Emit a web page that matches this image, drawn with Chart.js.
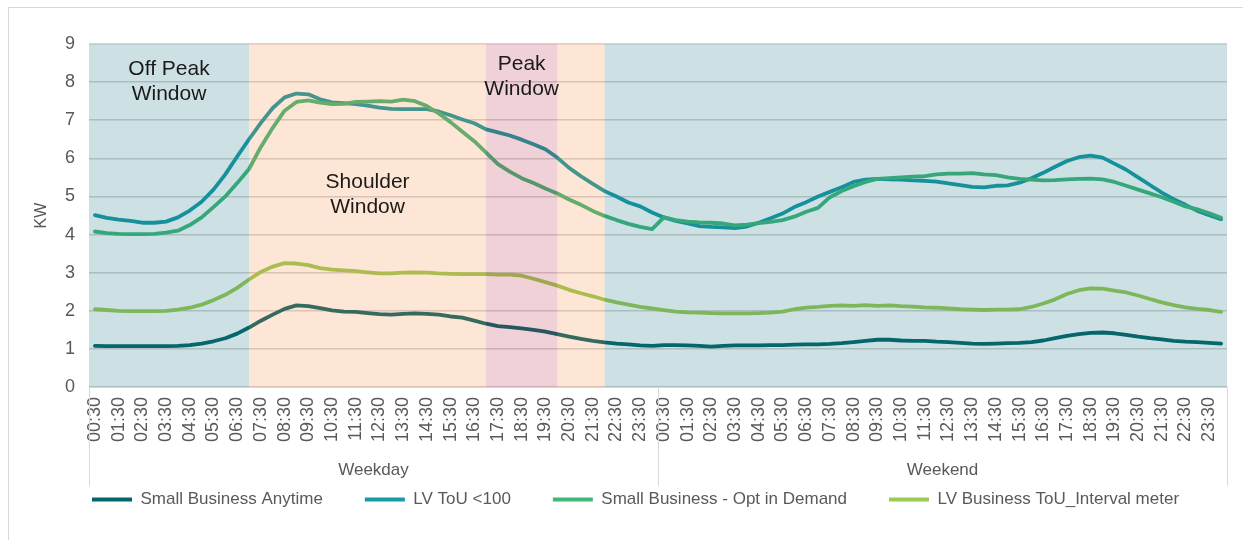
<!DOCTYPE html>
<html>
<head>
<meta charset="utf-8">
<script src="https://cdn.jsdelivr.net/npm/chart.js@4.4.1/dist/chart.umd.min.js"></script>
<style>
  html, body { margin: 0; padding: 0; background: #fff; }
  #wrap { width: 1243px; height: 540px; position: relative; }
</style>
</head>
<body>
<div id="wrap"><canvas id="c"></canvas></div>
<script>
// half-hour intervals, same list for each day type
const halfHours = ['00:30','01:00','01:30','02:00','02:30','03:00','03:30','04:00','04:30','05:00','05:30','06:00',
  '06:30','07:00','07:30','08:00','08:30','09:00','09:30','10:00','10:30','11:00','11:30','12:00',
  '12:30','13:00','13:30','14:00','14:30','15:00','15:30','16:00','16:30','17:00','17:30','18:00',
  '18:30','19:00','19:30','20:00','20:30','21:00','21:30','22:00','22:30','23:00','23:30','24:00'];
const dayGroups = ['Weekday', 'Weekend'];

const seriesNames = ['Small Business Anytime', 'LV ToU <100', 'Small Business - Opt in Demand', 'LV Business ToU_Interval meter'];

const anytimeWeekday = [1.08,1.07,1.07,1.07,1.07,1.07,1.07,1.08,1.10,1.14,1.20,1.28,1.40,1.56,1.74,1.90,2.05,2.14,2.12,2.07,2.01,1.98,1.97,1.94,
  1.91,1.90,1.92,1.93,1.92,1.90,1.85,1.82,1.74,1.66,1.60,1.57,1.54,1.50,1.45,1.39,1.32,1.26,1.21,1.17,1.14,1.12,1.09,1.08];
const anytimeWeekend = [1.10,1.10,1.09,1.08,1.06,1.08,1.09,1.09,1.09,1.10,1.10,1.11,1.12,1.12,1.13,1.15,1.18,1.21,1.24,1.24,1.22,1.21,1.21,1.19,
  1.18,1.16,1.14,1.13,1.14,1.15,1.16,1.18,1.22,1.28,1.34,1.39,1.42,1.43,1.41,1.37,1.32,1.28,1.25,1.21,1.19,1.18,1.16,1.14];

const touWeekday = [4.51,4.44,4.39,4.36,4.31,4.31,4.34,4.45,4.63,4.86,5.18,5.58,6.05,6.50,6.93,7.32,7.60,7.70,7.68,7.55,7.47,7.45,7.42,7.38,
  7.33,7.30,7.29,7.29,7.29,7.23,7.13,7.02,6.92,6.76,6.68,6.60,6.49,6.37,6.24,6.02,5.75,5.53,5.33,5.14,5.00,4.84,4.74,4.58];
const touWeekend = [4.45,4.36,4.29,4.22,4.20,4.19,4.17,4.21,4.31,4.43,4.55,4.72,4.85,5.00,5.12,5.24,5.38,5.44,5.46,5.45,5.44,5.42,5.41,5.39,
  5.34,5.30,5.25,5.24,5.28,5.29,5.36,5.48,5.62,5.78,5.93,6.03,6.07,6.02,5.86,5.70,5.50,5.30,5.10,4.93,4.78,4.62,4.51,4.40];

const demandWeekday = [4.08,4.04,4.02,4.01,4.01,4.02,4.05,4.10,4.25,4.45,4.72,5.00,5.35,5.72,6.30,6.80,7.25,7.48,7.52,7.46,7.42,7.43,7.48,7.49,
  7.50,7.49,7.54,7.50,7.37,7.18,6.95,6.70,6.45,6.15,5.85,5.65,5.48,5.35,5.21,5.08,4.92,4.78,4.62,4.49,4.38,4.28,4.20,4.14];
const demandWeekend = [4.45,4.38,4.34,4.32,4.31,4.29,4.24,4.26,4.30,4.33,4.38,4.47,4.60,4.70,4.98,5.14,5.27,5.38,5.46,5.48,5.50,5.52,5.53,5.58,
  5.60,5.60,5.61,5.58,5.56,5.50,5.46,5.44,5.42,5.43,5.45,5.46,5.47,5.45,5.38,5.28,5.18,5.08,4.98,4.86,4.74,4.66,4.56,4.44];

const intervalWeekday = [2.04,2.02,2.00,1.99,1.99,1.99,2.00,2.03,2.08,2.16,2.28,2.42,2.60,2.82,3.02,3.16,3.25,3.24,3.20,3.12,3.08,3.06,3.04,3.01,
  2.98,2.98,3.00,3.01,3.00,2.98,2.97,2.96,2.96,2.96,2.95,2.95,2.92,2.84,2.75,2.66,2.55,2.46,2.38,2.29,2.22,2.16,2.10,2.06];
const intervalWeekend = [2.02,1.98,1.96,1.95,1.94,1.93,1.93,1.93,1.94,1.95,1.98,2.04,2.08,2.10,2.13,2.14,2.13,2.15,2.13,2.14,2.12,2.11,2.09,2.08,
  2.06,2.04,2.03,2.02,2.03,2.03,2.04,2.10,2.19,2.30,2.44,2.54,2.59,2.58,2.53,2.48,2.40,2.31,2.22,2.15,2.09,2.05,2.02,1.97];

// tariff windows on the weekday; the last off-peak runs through the whole weekend
const tariffWindows = [
  { kind: 'offpeak',  from: null,    to: '07:00', note: ['Off Peak', 'Window'], noteAt: 8.34 },
  { kind: 'shoulder', from: '07:00', to: '17:00', note: ['Shoulder', 'Window'], noteAt: 5.37 },
  { kind: 'peak',     from: '17:00', to: '20:00', note: ['Peak', 'Window'],     noteAt: 8.48 },
  { kind: 'shoulder', from: '20:00', to: '22:00' },
  { kind: 'offpeak',  from: '22:00', to: null }
];

const FONT = '"Liberation Sans", Arial, sans-serif';
const lineColours = ['#05666a', '#189ba4', '#43b77b', '#9bcb55'];
const bandColours = {
  offpeak: 'rgba(5,105,120,0.2)',
  shoulder: 'rgba(245,130,50,0.2)',
  peak: 'rgba(175,25,55,0.2)'
};

const labels = halfHours.concat(halfHours);
const values = [
  anytimeWeekday.concat(anytimeWeekend),
  touWeekday.concat(touWeekend),
  demandWeekday.concat(demandWeekend),
  intervalWeekday.concat(intervalWeekend)
];

const tariffBands = {
  id: 'tariffBands',
  afterDatasetsDraw(chart) {
    const { ctx, chartArea: a, scales: { x, y } } = chart;
    const top = y.getPixelForValue(9), bottom = y.getPixelForValue(0);
    ctx.save();
    tariffWindows.forEach(w => {
      const x0 = w.from === null ? a.left : x.getPixelForValue(halfHours.indexOf(w.from));
      const x1 = w.to === null ? a.right : x.getPixelForValue(halfHours.indexOf(w.to));
      ctx.fillStyle = bandColours[w.kind];
      ctx.fillRect(x0, top, x1 - x0, bottom - top);
      if (w.note) {
        ctx.fillStyle = '#1a1a1a';
        ctx.font = '21px ' + FONT;
        ctx.textAlign = 'center';
        ctx.textBaseline = 'middle';
        const cy = y.getPixelForValue(w.noteAt);
        w.note.forEach((t, i) => ctx.fillText(t, (x0 + x1) / 2, cy + i * 25));
      }
    });
    ctx.restore();
  },
  afterDraw(chart) {
    const { ctx, chartArea: a, scales: { x } } = chart;
    const n = halfHours.length;
    const edges = [a.left];
    for (let g = 1; g < dayGroups.length; g++) {
      edges.push((x.getPixelForValue(g * n - 1) + x.getPixelForValue(g * n)) / 2);
    }
    edges.push(a.right);
    ctx.save();
    ctx.strokeStyle = '#d9d9d9';
    ctx.lineWidth = 1;
    edges.forEach(e => {
      ctx.beginPath();
      ctx.moveTo(Math.round(e) + 0.5, a.bottom);
      ctx.lineTo(Math.round(e) + 0.5, a.bottom + 99);
      ctx.stroke();
    });
    ctx.fillStyle = '#595959';
    ctx.font = '17px ' + FONT;
    ctx.textAlign = 'center';
    ctx.textBaseline = 'middle';
    dayGroups.forEach((g, i) => ctx.fillText(g, (edges[i] + edges[i + 1]) / 2, a.bottom + 83));
    // chart frame
    ctx.strokeStyle = '#d9d9d9';
    ctx.strokeRect(8.5, 7.5, 1300, 600);
    ctx.restore();
  }
};

const legendNudge = {
  id: 'legendNudge',
  afterLayout(chart) { if (chart.legend) chart.legend.left = 50; }
};

new Chart(document.getElementById('c'), {
  type: 'line',
  data: {
    labels: labels,
    datasets: seriesNames.map((name, i) => ({
      label: name,
      data: values[i],
      borderColor: lineColours[i],
      backgroundColor: lineColours[i],
      borderWidth: 3.8,
      pointRadius: 0,
      pointBorderWidth: 4,
      borderJoinStyle: 'round',
      borderCapStyle: 'round',
      tension: 0,
      fill: false,
      order: seriesNames.length - i
    }))
  },
  options: {
    responsive: true,
    maintainAspectRatio: false,
    animation: false,
    layout: { padding: { top: 44, right: 16, bottom: 22, left: 0 } },
    plugins: {
      tooltip: { enabled: false },
      legend: {
        position: 'bottom',
        align: 'start',
        labels: {
          usePointStyle: true,
          pointStyle: 'line',
          pointStyleWidth: 40,
          padding: 42,
          color: '#595959',
          font: { family: FONT, size: 17 },
          sort: (a, b) => a.datasetIndex - b.datasetIndex
        }
      }
    },
    scales: {
      x: {
        offset: true,
        grid: { display: false, drawTicks: false },
        border: { display: true, color: '#d9d9d9', width: 1 },
        ticks: {
          autoSkip: false,
          minRotation: 90,
          maxRotation: 90,
          padding: 10,
          color: '#595959',
          font: { family: FONT, size: 18 },
          callback: function (v, i) { return i % 2 === 0 ? this.getLabelForValue(v) : ''; }
        },
        afterFit(s) { s.height = 62; s.paddingLeft = 0; s.paddingRight = 0; }
      },
      y: {
        min: 0,
        max: 9,
        grid: { color: '#d4d4d4', lineWidth: 1.5, drawTicks: false },
        border: { display: false },
        ticks: { stepSize: 1, padding: 14, color: '#595959', font: { family: FONT, size: 18 } },
        title: { display: true, text: 'KW', color: '#595959', font: { family: FONT, size: 16 }, padding: { top: 32, bottom: 0 } },
        afterFit(s) { s.width = 89; }
      }
    }
  },
  plugins: [tariffBands, legendNudge]
});
</script>
</body>
</html>
